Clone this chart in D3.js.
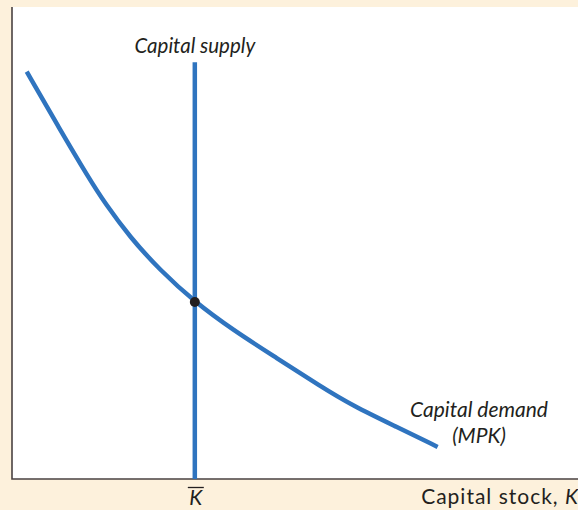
<!DOCTYPE html>
<html>
<head>
<meta charset="utf-8">
<script src="https://cdn.jsdelivr.net/npm/d3@7"></script>
<style>
  html, body { margin: 0; padding: 0; background: #fdf1dc; }
  svg { display: block; }
</style>
</head>
<body>
<svg id="chart" width="578" height="510"></svg>
<script>
// Capital demand (MPK) curve: capital stock vs. rental price (arbitrary units)
const demandK   = [2.6, 8.2, 13.8, 16.4, 20.8, 26.1, 32.3, 39.0, 46.8, 54.4, 60.2, 68.0, 75.2];
const demandMPK = [86.3, 74.6, 63.3, 58.5, 51.3, 44.3, 37.5, 31.6, 25.6, 19.7, 15.5, 11.0, 6.8];

// Fixed capital supply at K-bar
const supplyK = 32.3;
const supplyTop = 88.3;
const equilibrium = { k: 32.3, mpk: 37.5 };

const xLabel = "Capital stock, ";
const xLabelVar = "K";
const kBarLabel = "K";
const supplyLabel = "Capital supply";
const demandLabel = ["Capital demand", "(MPK)"];

const svg = d3.select("#chart");
const plot = { left: 12, top: 7, right: 578, bottom: 479 };

const x = d3.scaleLinear().domain([0, 100]).range([plot.left, plot.right]);
const y = d3.scaleLinear().domain([0, 100]).range([plot.bottom, plot.top]);

const blue = "#2f74bf";
const axisColor = "#4a4242";
const textColor = "#231f20";

// plot area
svg.append("rect")
  .attr("x", plot.left).attr("y", plot.top)
  .attr("width", plot.right - plot.left).attr("height", plot.bottom - plot.top)
  .attr("fill", "#ffffff");

// axes (left and bottom only)
svg.append("path")
  .attr("d", `M${plot.left},${plot.top}V${plot.bottom}H${plot.right}`)
  .attr("fill", "none").attr("stroke", axisColor).attr("stroke-width", 1.6);

// demand curve
const line = d3.line()
  .x(d => x(d[0])).y(d => y(d[1]))
  .curve(d3.curveBasis);
svg.append("path")
  .datum(d3.zip(demandK, demandMPK))
  .attr("d", line)
  .attr("fill", "none").attr("stroke", blue).attr("stroke-width", 4.5);

// supply line
svg.append("line")
  .attr("x1", x(supplyK)).attr("x2", x(supplyK))
  .attr("y1", y(supplyTop)).attr("y2", y(0))
  .attr("stroke", blue).attr("stroke-width", 4.5);

// equilibrium point
svg.append("circle")
  .attr("cx", x(equilibrium.k)).attr("cy", y(equilibrium.mpk))
  .attr("r", 5).attr("fill", textColor);

const font = "Lato, 'Open Sans', sans-serif";

// curve labels
svg.append("text")
  .attr("x", x(supplyK)).attr("y", 53)
  .attr("text-anchor", "middle")
  .attr("font-family", font).attr("font-style", "italic").attr("font-size", 20.5)
  .attr("fill", textColor).text(supplyLabel);

svg.append("text")
  .attr("x", 479).attr("y", 417)
  .attr("text-anchor", "middle")
  .attr("font-family", font).attr("font-style", "italic").attr("font-size", 21)
  .attr("fill", textColor).text(demandLabel[0]);
svg.append("text")
  .attr("x", 479).attr("y", 443)
  .attr("text-anchor", "middle")
  .attr("font-family", font).attr("font-style", "italic").attr("font-size", 21)
  .attr("fill", textColor).text(demandLabel[1]);

// K-bar tick label
svg.append("text")
  .attr("x", x(supplyK) + 1).attr("y", 505)
  .attr("text-anchor", "middle")
  .attr("font-family", font).attr("font-style", "italic").attr("font-size", 21)
  .attr("fill", textColor).text(kBarLabel);
svg.append("line")
  .attr("x1", x(supplyK) - 7).attr("x2", x(supplyK) + 9)
  .attr("y1", 487.5).attr("y2", 487.5)
  .attr("stroke", textColor).attr("stroke-width", 1.3);

// x-axis title
const xt = svg.append("text")
  .attr("x", 579).attr("y", 504)
  .attr("text-anchor", "end")
  .attr("font-family", font).attr("font-size", 21)
  .attr("letter-spacing", 1)
  .attr("fill", textColor);
xt.append("tspan").text(xLabel);
xt.append("tspan").attr("font-style", "italic").text(xLabelVar);
</script>
</body>
</html>
